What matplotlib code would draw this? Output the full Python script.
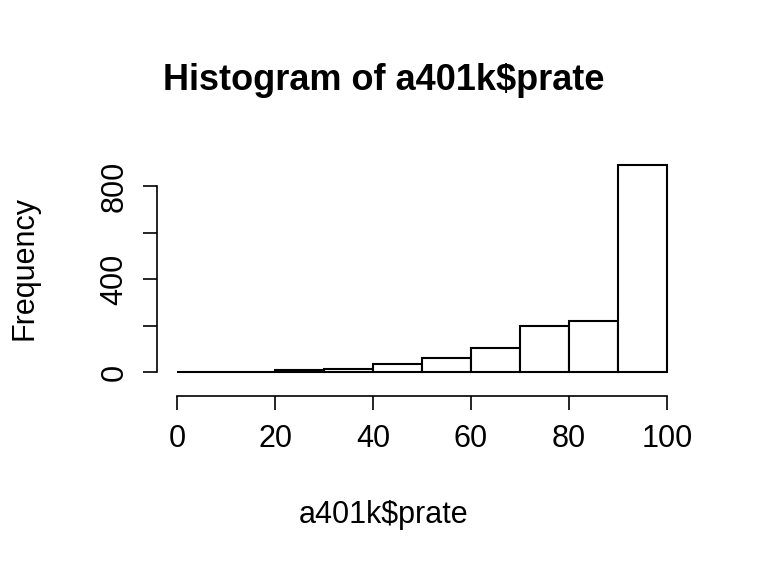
import numpy as np
import matplotlib
matplotlib.use("Agg")
from matplotlib import pyplot as plt

plt.rcParams['font.family'] = ['Liberation Sans', 'DejaVu Sans']

edges = [0, 10, 20, 30, 40, 50, 60, 70, 80, 90, 100]
counts = [1, 2, 7, 14, 33, 62, 105, 200, 218, 890]

W, H = 768, 576
fig = plt.figure(figsize=(7.68, 5.76), dpi=100)
left, right, top, bottom = 157.4, 686.6, 156.8, 380.3
ax = fig.add_axes([left / W, 1 - bottom / H, (right - left) / W, (bottom - top) / H])

ax.bar(edges[:-1], counts, width=10, align='edge', facecolor='white', edgecolor='black', linewidth=1.5)
ax.set_xlim(-4, 104)
ax.set_ylim(-0.04 * 890, 890 * 1.04)

for s in ['top', 'right']:
    ax.spines[s].set_visible(False)
ax.spines['left'].set_bounds(0, 800)
ax.spines['bottom'].set_bounds(0, 100)
ax.spines['bottom'].set_position(('outward', 11.5))
for s in ['left', 'bottom']:
    ax.spines[s].set_linewidth(1.2)

ax.set_xticks([0, 20, 40, 60, 80, 100])
ax.set_yticks([0, 200, 400, 600, 800])
ax.set_yticklabels(['0', '', '400', '', '800'], rotation=90, va='center')
ax.tick_params(labelsize=22, length=10, width=1.2, pad=10)

fig.text(0.5, 1 - 80 / H, "Histogram of a401k$prate", ha='center', va='center', fontsize=26, fontweight='bold')
fig.text(0.5, 1 - 515 / H, "a401k$prate", ha='center', va='center', fontsize=22)
fig.text(25 / W, 1 - 268 / H, "Frequency", ha='center', va='center', rotation=90, fontsize=22)

fig.savefig("out.png", dpi=100)
